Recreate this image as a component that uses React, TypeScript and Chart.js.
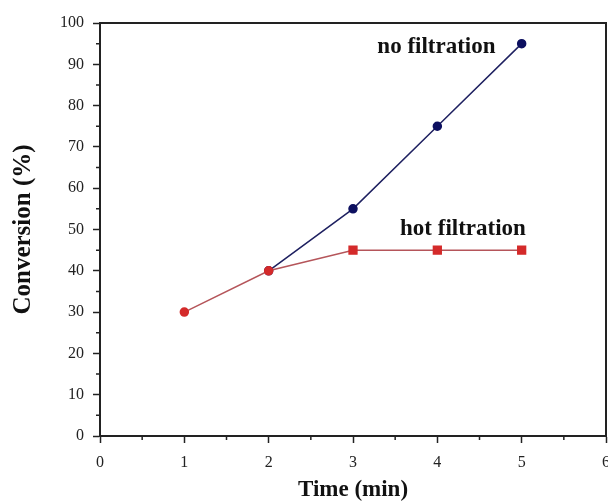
import React, { useEffect, useRef } from "react";
import { Chart, registerables } from "chart.js";

Chart.register(...registerables);

const times = [1, 2, 3, 4, 5];
const noFiltration = [null, 40, 55, 75, 95];
const hotFiltration = [30, 40, 45, 45, 45];
const hotPointStyles = ["circle", "circle", "rect", "rect", "rect"];
const hotPointRadius = [4, 4, 5.5, 5.5, 5.5];
const xTicks = [0, 1, 2, 3, 4, 5, 6];
const yTicks = [0, 10, 20, 30, 40, 50, 60, 70, 80, 90, 100];
const annotations = [
  { text: "no filtration", x: 4.69, y: 94.2 },
  { text: "hot filtration", x: 5.05, y: 50 },
];

const SERIF = '"Liberation Serif", "Times New Roman", serif';
const AXIS = "#222222";

const extrasPlugin = {
  id: "extras",
  afterDraw(chart: any) {
    const { ctx, chartArea } = chart;
    const xs = chart.scales.x;
    const ys = chart.scales.y;
    ctx.save();
    ctx.strokeStyle = AXIS;
    ctx.lineWidth = 2;
    ctx.beginPath();
    ctx.moveTo(chartArea.left, chartArea.top);
    ctx.lineTo(chartArea.right, chartArea.top);
    ctx.lineTo(chartArea.right, chartArea.bottom);
    ctx.stroke();
    ctx.lineWidth = 1.5;
    ctx.beginPath();
    for (let i = 0; i < xTicks.length - 1; i++) {
      const v = (xTicks[i] + xTicks[i + 1]) / 2;
      const px = xs.getPixelForValue(v);
      ctx.moveTo(px, chartArea.bottom);
      ctx.lineTo(px, chartArea.bottom + 4);
    }
    for (let i = 0; i < yTicks.length - 1; i++) {
      const v = (yTicks[i] + yTicks[i + 1]) / 2;
      const py = ys.getPixelForValue(v);
      ctx.moveTo(chartArea.left, py);
      ctx.lineTo(chartArea.left - 4, py);
    }
    ctx.stroke();
    ctx.fillStyle = "#111111";
    ctx.font = `bold 23px ${SERIF}`;
    ctx.textAlign = "right";
    ctx.textBaseline = "middle";
    for (const a of annotations) {
      ctx.fillText(a.text, xs.getPixelForValue(a.x), ys.getPixelForValue(a.y));
    }
    ctx.restore();
  },
};

export default function App() {
  const ref = useRef<HTMLCanvasElement | null>(null);
  useEffect(() => {
    if (!ref.current) return;
    const chart = new Chart(ref.current, {
      type: "line",
      data: {
        labels: times,
        datasets: [
          {
            label: "hot filtration",
            data: times.map((t, i) => ({ x: t, y: hotFiltration[i] })),
            borderColor: "#b5555a",
            backgroundColor: "#d42a2a",
            pointBorderColor: "#d42a2a",
            pointBackgroundColor: "#d42a2a",
            pointStyle: hotPointStyles as any,
            pointRadius: hotPointRadius as any,
            borderWidth: 1.5,
            tension: 0,
          },
          {
            label: "no filtration",
            data: times.map((t, i) => ({ x: t, y: noFiltration[i] })),
            borderColor: "#1e2060",
            backgroundColor: "#0d1060",
            pointBorderColor: "#0d1060",
            pointBackgroundColor: "#0d1060",
            pointStyle: "circle",
            pointRadius: 4,
            borderWidth: 1.5,
            tension: 0,
            spanGaps: false,
          },
        ],
      },
      options: {
        animation: false,
        responsive: false,
        maintainAspectRatio: false,
        layout: { autoPadding: false, padding: { top: 23, right: 2, bottom: 0, left: 0 } },
        plugins: { legend: { display: false }, tooltip: { enabled: false } },
        scales: {
          x: {
            type: "linear",
            min: 0,
            max: 6,
            afterFit(scale: any) {
              scale.height = 66;
              scale.paddingRight = 0;
              scale.paddingLeft = 0;
            },
            ticks: {
              stepSize: 1,
              color: AXIS,
              font: { family: SERIF, size: 16 },
              padding: 10,
              maxRotation: 0,
            },
            grid: {
              drawOnChartArea: false,
              drawTicks: true,
              tickLength: 7,
              tickWidth: 1.5,
              tickColor: AXIS,
            },
            border: { display: true, color: AXIS, width: 2 },
            title: {
              display: true,
              text: "Time (min)",
              color: "#111111",
              font: { family: SERIF, size: 23, weight: "bold", lineHeight: 1 },
              padding: { top: 0, bottom: 0 },
            },
          },
          y: {
            type: "linear",
            min: 0,
            max: 100,
            afterFit(scale: any) {
              scale.width = 100;
            },
            ticks: {
              stepSize: 10,
              color: AXIS,
              font: { family: SERIF, size: 16 },
              padding: 9,
            },
            grid: {
              drawOnChartArea: false,
              drawTicks: true,
              tickLength: 7,
              tickWidth: 1.5,
              tickColor: AXIS,
            },
            border: { display: true, color: AXIS, width: 2 },
            title: {
              display: true,
              text: "Conversion (%)",
              color: "#111111",
              font: { family: SERIF, size: 25, weight: "bold", lineHeight: 1 },
              padding: { top: 11, bottom: 0 },
            },
          },
        },
      },
      plugins: [extrasPlugin],
    });
    return () => chart.destroy();
  }, []);
  return (
    <div style={{ position: "absolute", left: 0, top: 0, width: 608, height: 502, background: "#fff" }}>
      <canvas ref={ref} width={608} height={502} style={{ display: "block" }} />
    </div>
  );
}
